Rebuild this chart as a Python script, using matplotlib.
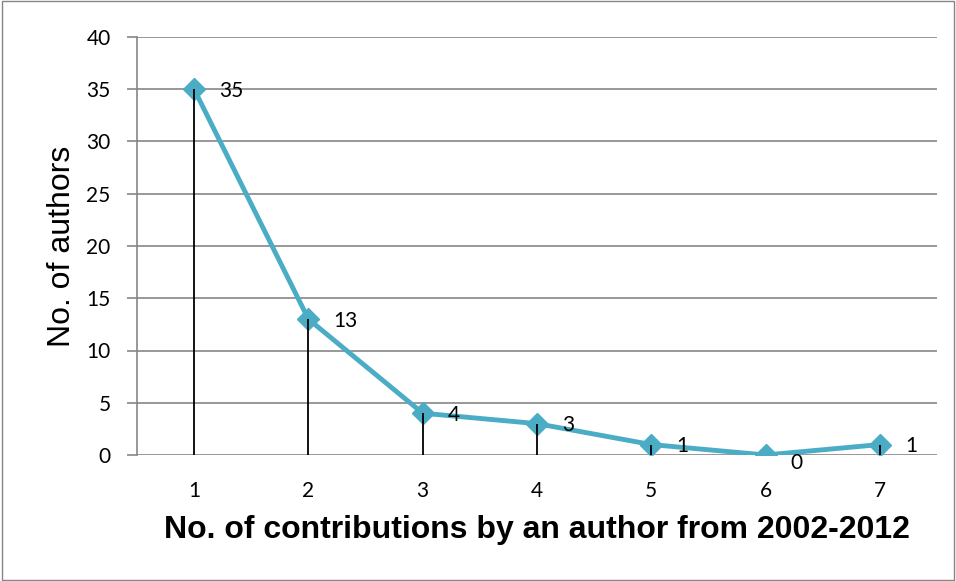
import matplotlib.pyplot as plt
from matplotlib.patches import Rectangle

contributions = [1, 2, 3, 4, 5, 6, 7]
authors = [35, 13, 4, 3, 1, 0, 1]
y_ticks = [0, 5, 10, 15, 20, 25, 30, 35, 40]

line_color = "#4BACC6"
grid_color = "#868686"

fig = plt.figure(figsize=(9.56, 5.81), dpi=100)
ax = fig.add_axes([137 / 956, 1 - 455 / 581, 800 / 956, 418 / 581])

# drop lines from each point to the baseline
ax.vlines(contributions, 0, authors, colors="black", linewidth=1.3, zorder=4)
ax.plot(contributions, authors, color=line_color, linewidth=3.5,
        marker="D", markersize=11, zorder=3)

for x, y in zip(contributions, authors):
    dy = -6 if y == 0 else -1
    ax.annotate(str(y), (x, y), xytext=(18, dy), textcoords="offset points",
                ha="left", va="center", fontsize=15, family="Lato")

ax.set_xlim(0.5, 7.5)
ax.set_ylim(0, 40)
ax.set_xticks(contributions)
ax.set_yticks(y_ticks)
ax.tick_params(axis="x", length=0, pad=19, labelsize=15)
ax.tick_params(axis="y", length=7, width=1.2, color=grid_color, pad=12,
               labelsize=15)
for lbl in ax.get_xticklabels() + ax.get_yticklabels():
    lbl.set_family("Lato")

ax.grid(axis="y", color=grid_color, linewidth=1.2)
ax.set_axisbelow(True)
for side in ["top", "right", "bottom"]:
    ax.spines[side].set_visible(False)
ax.spines["left"].set_color(grid_color)
ax.spines["left"].set_linewidth(1.2)

ax.set_ylabel("No. of authors", fontsize=23, family="Liberation Sans",
              labelpad=7)
ax.set_xlabel("No. of contributions by an author from 2002-2012", fontsize=23,
              fontweight="bold", family="Liberation Sans", labelpad=10)

fig.patches.append(Rectangle((0.002, 0.002), 0.996, 0.996,
                             transform=fig.transFigure, fill=False,
                             edgecolor=grid_color, linewidth=1))

fig.savefig("out.png", dpi=100)
